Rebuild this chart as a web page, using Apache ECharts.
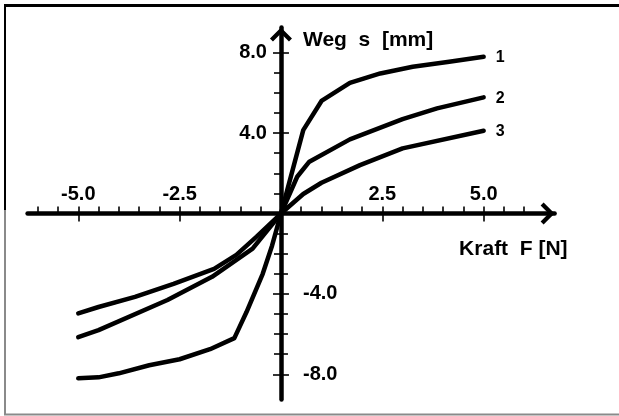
<!DOCTYPE html>
<html>
<head>
<meta charset="utf-8">
<title>Weg s über Kraft F</title>
<script src="https://cdn.jsdelivr.net/npm/echarts@6/dist/echarts.min.js"></script>
<style>
  html, body { margin: 0; padding: 0; background: #fff; }
  #chart { width: 619px; height: 416px; }
</style>
</head>
<body>
<div id="chart"></div>
<script>
// Kennlinien: Weg s [mm] über Kraft F [N]
const force1 = [-5, -4.5, -4, -3.25, -2.5, -1.75, -1.15, -0.85, -0.45, -0.22, 0, 0.55, 1, 1.7, 2.45, 3.25, 4.15, 5];
const travel1 = [-8.2, -8.15, -7.95, -7.55, -7.25, -6.75, -6.2, -4.9, -3.0, -1.6, 0, 4.15, 5.6, 6.5, 6.97, 7.3, 7.55, 7.8];

const force2 = [-5, -4.5, -2.8, -1.7, -0.7, 0, 0.4, 0.7, 1.7, 3, 3.85, 5];
const travel2 = [-6.15, -5.8, -4.3, -3.15, -1.75, 0, 1.83, 2.58, 3.69, 4.7, 5.23, 5.78];

const force3 = [-5, -4.5, -3.6, -2.65, -1.65, -1.1, -0.6, 0, 0.55, 1, 1.95, 3, 5];
const travel3 = [-4.97, -4.65, -4.15, -3.5, -2.75, -2.06, -1.15, 0, 0.97, 1.53, 2.41, 3.24, 4.12];

const curveNames = ['1', '2', '3'];

// Achsenteilung
const xMajorTicks = [-5, -2.5, 2.5, 5];
const xMinorTicks = [-6, -5.5, -4.5, -4, -3.5, -3, -2, -1.5, -1, -0.5, 0.5, 1, 1.5, 2, 3, 3.5, 4, 4.5, 5.5, 6];
const yMajorTicks = [-8, -4, 4, 8];
const yUpperLabels = [4, 8];
const yLowerLabels = [-4, -8];
const yMinorTicks = [-7, -6, -5, -3, -2, -1, 1, 2, 3, 5, 6, 7];
const yLowerMinorTicks = [-7, -6, -5, -3, -2, -1];

const X_MIN = -6.25, X_MAX = 6.75;
const Y_MIN = -9.25, Y_MAX = 9.25;

const FONT = "'Liberation Sans', Arial, Helvetica, sans-serif";
const BLACK = '#000';
const arrowPath = 'path://M11 0 L22 11 L19 14 L11 6 L3 14 L0 11 Z';

function pairs(xs, ys) { return xs.map((x, i) => [x, ys[i]]); }
const fmt = v => v.toFixed(1);

// Zeichenfläche; Hilfsgitter enden am Nullpunkt, damit ihre Achsen dort liegen
const plot = { left: 27.6, top: 27.6, width: 527, height: 371.85 };
const zeroX = plot.left + plot.width * (0 - X_MIN) / (X_MAX - X_MIN);
const zeroY = plot.top + plot.height * (Y_MAX - 0) / (Y_MAX - Y_MIN);

const grids = [
  { left: plot.left, top: plot.top, width: plot.width, height: plot.height },            // Hauptgitter
  { left: plot.left, top: plot.top, width: plot.width, height: zeroY - plot.top },         // x-Hilfsachsen
  { left: zeroX, top: plot.top, width: plot.left + plot.width - zeroX, height: plot.height } // y-Hilfsachsen
];

const noLine = { show: false, onZero: false };
const tickStyle = { color: BLACK, width: 1.6 };
const labelStyle = { color: BLACK, fontFamily: FONT, fontWeight: 'bold', fontSize: 20 };
const nameStyle = { color: BLACK, fontFamily: FONT, fontWeight: 'bold', fontSize: 21 };
const mainLine = {
  show: true, onZero: true,
  lineStyle: { color: BLACK, width: 4.5 },
  symbol: ['none', arrowPath], symbolSize: [22, 14], symbolOffset: [0, -7]
};

function xAxisFor(g, extra) {
  return Object.assign({
    type: 'value', gridIndex: g, position: 'bottom', min: X_MIN, max: X_MAX,
    splitLine: { show: false }, axisLine: noLine,
    axisTick: { show: false }, axisLabel: { show: false }
  }, extra);
}
function yAxisFor(g, extra) {
  return Object.assign({
    type: 'value', gridIndex: g, position: 'left', min: Y_MIN, max: Y_MAX,
    splitLine: { show: false }, axisLine: noLine,
    axisTick: { show: false }, axisLabel: { show: false }
  }, extra);
}

const chart = echarts.init(document.getElementById('chart'), null, { renderer: 'canvas' });

chart.setOption({
  animation: false,
  backgroundColor: '#fff',
  grid: grids,
  xAxis: [
    xAxisFor(0, {
      name: 'Kraft  F [N]',
      nameLocation: 'end',
      nameGap: 13,
      nameTextStyle: Object.assign({}, nameStyle, { align: 'right', verticalAlign: 'top', padding: [25, 0, 0, 0] }),
      axisLine: mainLine,
      axisTick: { show: true, inside: true, length: 7, customValues: xMinorTicks, lineStyle: tickStyle }
    }),
    // Hauptstriche nach oben mit Beschriftung
    xAxisFor(1, {
      axisTick: { show: true, inside: true, length: 7, customValues: xMajorTicks, lineStyle: tickStyle },
      axisLabel: Object.assign({ show: true, inside: true, margin: 9, customValues: xMajorTicks, formatter: fmt }, labelStyle)
    }),
    // Hauptstriche nach unten
    xAxisFor(1, {
      axisTick: { show: true, inside: false, length: 8, customValues: xMajorTicks, lineStyle: tickStyle }
    }),
    xAxisFor(2, { min: 0, show: false })
  ],
  yAxis: [
    yAxisFor(0, {
      name: 'Weg  s  [mm]',
      nameLocation: 'end',
      nameGap: -2,
      nameTextStyle: Object.assign({}, nameStyle, { align: 'left', verticalAlign: 'top', padding: [0, 0, 0, 22] }),
      axisLine: mainLine,
      axisTick: { show: true, inside: false, length: 7, customValues: yMinorTicks, lineStyle: tickStyle }
    }),
    yAxisFor(1, { min: 0, show: false }),
    // rechts: Nebenstriche im negativen Bereich und negative Beschriftung
    yAxisFor(2, {
      axisTick: { show: true, inside: true, length: 7, customValues: yLowerMinorTicks, lineStyle: tickStyle },
      axisLabel: Object.assign({ show: true, inside: true, margin: 22, customValues: yLowerLabels, formatter: fmt }, labelStyle)
    }),
    // links: Hauptstriche und positive Beschriftung
    yAxisFor(2, {
      axisTick: { show: true, inside: false, length: 8, customValues: yMajorTicks, lineStyle: tickStyle },
      axisLabel: Object.assign({ show: true, inside: false, margin: 14, customValues: yUpperLabels, formatter: fmt, padding: [8, 0, 0, 0] }, labelStyle)
    }),
    // rechts: Hauptstriche
    yAxisFor(2, {
      axisTick: { show: true, inside: true, length: 8, customValues: yMajorTicks, lineStyle: tickStyle }
    })
  ],
  series: [
    [force1, travel1],
    [force2, travel2],
    [force3, travel3]
  ].map(([xs, ys], i) => ({
    type: 'line',
    name: curveNames[i],
    xAxisIndex: 0,
    yAxisIndex: 0,
    data: pairs(xs, ys),
    showSymbol: false,
    smooth: false,
    clip: false,
    lineStyle: { color: BLACK, width: 4.5, cap: 'round', join: 'round' },
    endLabel: {
      show: true,
      formatter: curveNames[i],
      distance: 12,
      offset: [0, 1],
      color: BLACK, fontFamily: FONT, fontWeight: 'bold', fontSize: 16
    },
    z: 3
  })),
  graphic: [
    // Rahmen
    { type: 'line', shape: { x1: 4, y1: 5.5, x2: 619, y2: 5.5 }, style: { stroke: '#000', lineWidth: 3 }, silent: true },
    { type: 'line', shape: { x1: 5, y1: 4, x2: 5, y2: 210 }, style: { stroke: '#000', lineWidth: 2 }, silent: true },
    { type: 'line', shape: { x1: 5, y1: 210, x2: 5, y2: 415 }, style: { stroke: '#8a8a8a', lineWidth: 2 }, silent: true },
    { type: 'line', shape: { x1: 4, y1: 414.5, x2: 619, y2: 414.5 }, style: { stroke: '#8a8a8a', lineWidth: 2 }, silent: true }
  ]
});
</script>
</body>
</html>
